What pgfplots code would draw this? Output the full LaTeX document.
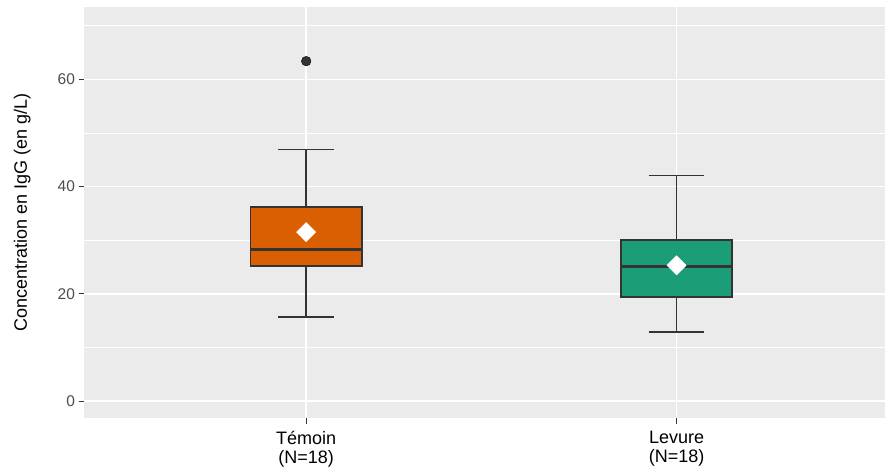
\documentclass[border=0pt]{standalone}
\usepackage{pgfplots}
\pgfplotsset{compat=1.18}
\usepackage{fontspec}
\setmainfont{Liberation Sans}
\definecolor{panelbg}{HTML}{EBEBEB}
\definecolor{gtwenty}{HTML}{333333}
\definecolor{gthirty}{HTML}{4D4D4D}
\definecolor{orangeD}{HTML}{D95F02}
\definecolor{greenD}{HTML}{1B9E77}
\begin{document}
\begin{tikzpicture}
\path[use as bounding box] (0pt,0pt) rectangle (885pt,470pt);
\begin{axis}[
 at={(84pt,51.7pt)}, anchor=south west,
 scale only axis, width=801pt, height=411.6pt,
 xmin=0.4, xmax=2.563, ymin=-3.23, ymax=73.56,
 axis background/.style={fill=panelbg},
 axis line style={draw=none},
 xtick={1,2}, xticklabels={{Témoin\\(N=18)},{Levure\\(N=18)}},
 ytick={0,20,40,60}, minor ytick={10,30,50,70},
 xmajorgrids, ymajorgrids, yminorgrids,
 major grid style={white, line width=1.6pt},
 minor grid style={white, line width=0.9pt},
 tick align=outside, tick pos=left,
 major tick length=5.5pt, minor tick length=0pt,
 tick style={gtwenty, line width=0.9pt},
 /pgf/number format/assume math mode=true,
 yticklabel style={font=\fontsize{15.5}{17}\selectfont, text=gthirty},
 xticklabel style={font=\fontsize{18}{18.5}\selectfont, align=center, text=black, yshift=-4pt},
 ylabel={Concentration en IgG (en g/L)},
 ylabel style={font=\fontsize{18}{20}\selectfont, at={(axis description cs:-0.077,0.5)}, anchor=center},
]
% Temoin whiskers
\addplot[gtwenty, line width=1.5pt, mark=none] coordinates {(1,36.2) (1,46.9)};
\addplot[gtwenty, line width=1.5pt, mark=none] coordinates {(0.925,46.9) (1.075,46.9)};
\addplot[gtwenty, line width=1.5pt, mark=none] coordinates {(1,25.2) (1,15.7)};
\addplot[gtwenty, line width=1.5pt, mark=none] coordinates {(0.925,15.7) (1.075,15.7)};
% Temoin box
\addplot[draw=gtwenty, fill=orangeD, line width=1.7pt, mark=none] coordinates {(0.85,25.2) (1.15,25.2) (1.15,36.2) (0.85,36.2)} -- cycle;
\addplot[gtwenty, line width=3pt, mark=none] coordinates {(0.85,28.3) (1.15,28.3)};
% Temoin outlier
\addplot[only marks, mark=*, mark size=4.8pt, mark options={fill=gtwenty, draw=none}] coordinates {(1,63.4)};
% Levure whiskers
\addplot[gtwenty, line width=1.5pt, mark=none] coordinates {(2,30.0) (2,42.1)};
\addplot[gtwenty, line width=1.5pt, mark=none] coordinates {(1.925,42.1) (2.075,42.1)};
\addplot[gtwenty, line width=1.5pt, mark=none] coordinates {(2,19.35) (2,12.9)};
\addplot[gtwenty, line width=1.5pt, mark=none] coordinates {(1.925,12.9) (2.075,12.9)};
% Levure box
\addplot[draw=gtwenty, fill=greenD, line width=1.7pt, mark=none] coordinates {(1.85,19.35) (2.15,19.35) (2.15,30.0) (1.85,30.0)} -- cycle;
\addplot[gtwenty, line width=3pt, mark=none] coordinates {(1.85,25.06) (2.15,25.06)};
% means
\addplot[only marks, mark=square*, mark size=6.8pt,
  mark options={fill=white, draw=white, rotate=45}]
  coordinates {(1,31.5) (2,25.3)};
\end{axis}
\end{tikzpicture}
\end{document}
